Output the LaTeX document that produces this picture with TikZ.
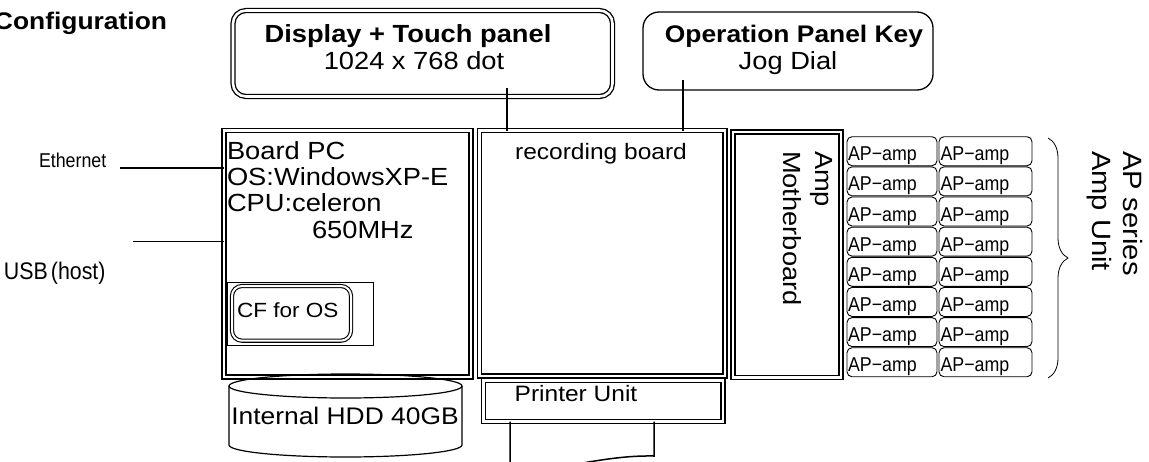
\documentclass[tikz,border=0pt]{standalone}
\usepackage{fontspec}
\setmainfont{Liberation Sans}[FakeStretch=1.1]
\newfontfamily\narrowfont{Liberation Sans}[FakeStretch=0.89]
\usetikzlibrary{decorations.pathreplacing}
\newcommand\setfs[2]{\fontsize{#1}{#2}\selectfont}
\begin{document}
\begin{tikzpicture}[x=1pt,y=-1pt,
  every node/.style={inner sep=0pt,outer sep=0pt},
  dbox/.style={draw,line width=1.3pt,double,double distance=2.6pt},
  conn/.style={line width=1.1pt},
  ampbox/.style={draw,line width=0.9pt,rounded corners=5pt,minimum height=29pt},
  big/.style={font=\setfs{24.8}{28}},
  bigb/.style={font=\bfseries\setfs{24.8}{28}},
  amptxt/.style={font=\narrowfont\setfs{20}{24},anchor=base west}
  ]
\useasboundingbox (0,0) rectangle (1149,461);

% boxes
\node[dbox,rounded corners=13pt,minimum width=379.5pt,minimum height=86pt] (disp) at (422.75,53.5) {};
\node[draw,line width=1.3pt,rounded corners=16pt,minimum width=290pt,minimum height=78pt] (op) at (788,51) {};
\node[dbox,minimum width=247pt,minimum height=246.5pt] (pc) at (347.5,253.75) {};
\node[dbox,minimum width=245.6pt,minimum height=245.5pt] (rec) at (602.2,253.25) {};
\node[dbox,minimum width=108pt,minimum height=245.5pt] (amp) at (787,254.75) {};
\node[dbox,minimum width=239.5pt,minimum height=41pt] (prn) at (603.25,401) {};
\node[draw,line width=0.8pt,minimum width=145.3pt,minimum height=63pt] (cfo) at (300.35,313.5) {};
\node[dbox,line width=1.1pt,double distance=2pt,rounded corners=10pt,minimum width=119pt,minimum height=54.7pt] (cf) at (291.5,313.35) {};

% texts
\node[anchor=base east,font=\bfseries\setfs{24}{28}] (title) at (167,29) {Configuration};
\node[anchor=base,bigb] (dispa) at (408,42) {Display + Touch panel};
\node[anchor=base,big] (dispb) at (414,69) {1024 x 768 dot};
\node[anchor=base,font=\bfseries\setfs{24}{28}] (opa) at (794,42) {Operation Panel Key};
\node[anchor=base,big] (opb) at (788,69) {Jog Dial};
\node[anchor=base west,big] (pca) at (227,159) {Board PC};
\node[anchor=base west,big] (pcb) at (227,185) {OS:WindowsXP-E};
\node[anchor=base west,big] (pcc) at (227,211) {CPU:celeron};
\node[anchor=base west,big] (pcd) at (312,238) {650MHz};
\node[anchor=base west,font=\setfs{20.5}{24}] (cft) at (237,317) {CF for OS};
\node[anchor=base west,font=\narrowfont\setfs{20}{24}] (eth) at (39,167) {Ethernet};
\node[anchor=base west,font=\narrowfont\setfs{24}{28}] (usb) at (4,279) {USB\kern3pt(host)};
\node[anchor=base,font=\setfs{22.3}{26}] (rect) at (601,159) {recording board};
\node[anchor=base,font=\setfs{22.3}{26}] (prnt) at (576,401) {Printer Unit};
\node[rotate=-90,anchor=north west,align=left,font=\setfs{24.8}{32}] (ampt) at (833,151) {Amp\\Motherboard};
\node[rotate=-90,anchor=north west,align=left,font=\setfs{26.5}{31}] (apu) at (1143,151) {AP series\\Amp Unit};

% HDD cylinder
\draw[line width=1.2pt] (345.5,386) ellipse [x radius=116.5, y radius=12];
\draw[line width=1.2pt] (229,386) -- (229,445) arc[start angle=180,end angle=0,x radius=116.5,y radius=12] -- (462,386);
\node[anchor=base,font=\setfs{24}{28}] (hddt) at (345,424) {Internal HDD 40GB};

% amp units
\foreach \i in {0,...,7}{
  \pgfmathsetmacro\yc{136.7+30.15*\i+14.5}
  \pgfmathsetmacro\yb{136.7+30.15*\i+24}
  \node[ampbox,minimum width=90pt] (ampa\i) at (892,\yc) {};
  \node[ampbox,minimum width=93pt] (ampb\i) at (985.5,\yc) {};
  \node[amptxt] (ampat\i) at (848,\yb) {AP−amp};
  \node[amptxt] (ampbt\i) at (940.5,\yb) {AP−amp};
}

% brace
\coordinate (brA) at (1048,138);
\coordinate (brB) at (1048,378);
\draw[line width=0.8pt,decorate,decoration={brace,amplitude=20pt}] (brA) -- (brB);

% connectors
\coordinate (dtap) at (507,88);
\draw[conn] (dtap) -- (dtap |- rec.north);
\coordinate (otap) at (683,80);
\draw[conn] (otap) -- (otap |- rec.north);
\coordinate (ethe) at (120,168);
\draw[conn] (ethe) -- (ethe -| pc.west);
\coordinate (usbe) at (133,241.5);
\draw[conn] (usbe) -- (usbe -| pc.west);

% paper
\coordinate (pL) at (510,470);
\coordinate (pR) at (654,456);
\draw[line width=1.5pt] (pL |- prn.south) -- (pL) .. controls (560,472) and (600,455) .. (pR) -- (pR |- prn.south);
\end{tikzpicture}
\end{document}
